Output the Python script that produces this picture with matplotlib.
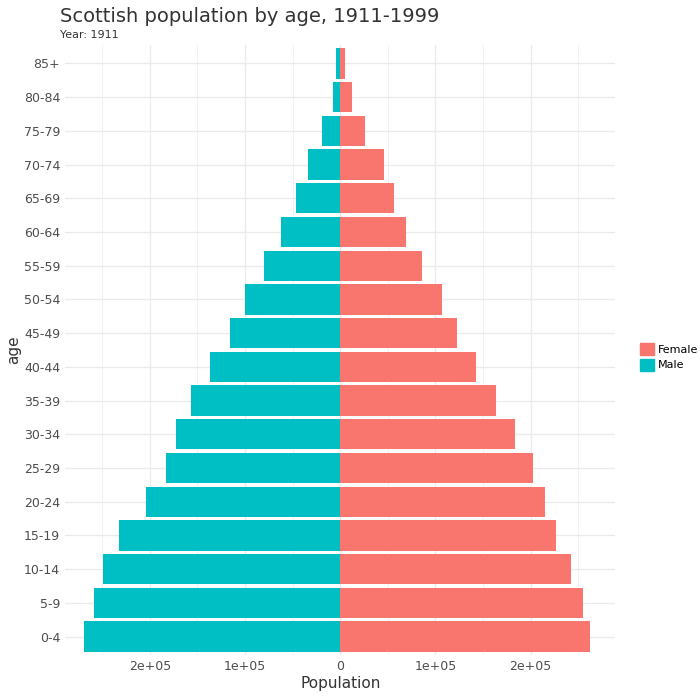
import matplotlib
matplotlib.use("Agg")
import matplotlib.pyplot as plt
import numpy as np
from matplotlib.patches import Patch
from matplotlib.ticker import FuncFormatter

ages = ["0-4", "5-9", "10-14", "15-19", "20-24", "25-29", "30-34", "35-39", "40-44",
        "45-49", "50-54", "55-59", "60-64", "65-69", "70-74", "75-79", "80-84", "85+"]
female = [262000, 255000, 242000, 227000, 215000, 203000, 184000, 164000, 143000,
          123000, 107000, 86000, 69000, 57000, 46000, 26000, 12000, 5000]
male = [269000, 259000, 249000, 232000, 204000, 183000, 172000, 157000, 137000,
        116000, 100000, 80000, 62000, 46000, 34000, 19000, 8000, 4000]

FEM = "#F8766D"
MAL = "#00BFC4"
GRID = "#EBEBEB"

fig = plt.figure(figsize=(7, 7), dpi=100)
ax = fig.add_axes([0.093, 0.064, 0.786, 0.872])
y = np.arange(len(ages))
ax.barh(y, female, height=0.9, color=FEM, zorder=3)
ax.barh(y, [-m for m in male], height=0.9, color=MAL, zorder=3)

ax.set_xlim(-289000, 289000)
ax.set_ylim(-0.55, 17.55)
ax.set_yticks(y)
ax.set_yticklabels(ages)
ax.set_xticks([-200000, -100000, 0, 100000, 200000])
ax.xaxis.set_major_formatter(FuncFormatter(lambda v, p: "0" if v == 0 else f"{abs(v)/1e5:.0f}e+05"))
ax.set_xticks([-250000, -150000, -50000, 50000, 150000, 250000], minor=True)
ax.grid(True, which="major", color=GRID, lw=1.0, zorder=0)
ax.grid(True, which="minor", axis="x", color=GRID, lw=0.5, zorder=0)
for s in ax.spines.values():
    s.set_visible(False)
ax.tick_params(length=0, labelsize=9, colors="#4D4D4D", which="both")
ax.set_xlabel("Population", fontsize=11, color="#333333", labelpad=2)
ax.set_ylabel("age", fontsize=11, color="#333333", labelpad=2)

fig.text(0.086, 0.968, "Scottish population by age, 1911-1999", fontsize=14, color="#333333")
fig.text(0.086, 0.945, "Year: 1911", fontsize=8, color="#333333")

handles = [Patch(color=FEM, label="Female"), Patch(color=MAL, label="Male")]
fig.legend(handles=handles, loc="center left", bbox_to_anchor=(0.9, 0.49), frameon=False,
           fontsize=8, handlelength=1.3, handleheight=1.3, labelspacing=0.3, handletextpad=0.3)

fig.savefig("out.png", dpi=100, facecolor="white")
